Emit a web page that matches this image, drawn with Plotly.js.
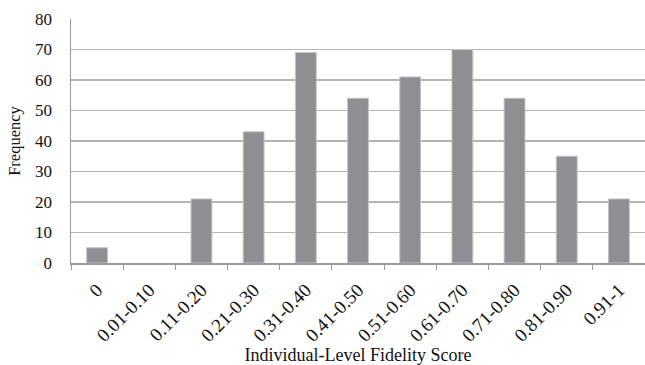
<!DOCTYPE html>
<html><head><meta charset="utf-8">
<script src="https://cdn.plot.ly/plotly-3.0.1.min.js"></script>
<style>html,body{margin:0;padding:0;background:#fff}</style>
</head><body>
<div id="chart" style="width:645px;height:365px"></div>
<script>
const categories = ["0","0.01-0.10","0.11-0.20","0.21-0.30","0.31-0.40","0.41-0.50","0.51-0.60","0.61-0.70","0.71-0.80","0.81-0.90","0.91-1"];
const frequency = [5, 0, 21, 43, 69, 54, 61, 70, 54, 35, 21];
const yTicks = [0,10,20,30,40,50,60,70,80];

const fam = "Liberation Serif, Times New Roman, serif";
Plotly.newPlot("chart", [{
  type: "bar", x: categories, y: frequency,
  marker: {color: "#8e8f93", line: {color: "#c4c4c6", width: frequency.map(v => v > 0 ? 1 : 0)}},
  hoverinfo: "skip"
}], {
  width: 645, height: 365,
  margin: {l: 71, r: 0, t: 19, b: 102},
  paper_bgcolor: "#fff", plot_bgcolor: "#fff",
  bargap: 0.6,
  showlegend: false,
  font: {family: fam, color: "#111", size: 17},
  xaxis: {
    type: "category", tickangle: -45, tickson: "boundaries",
    ticks: "outside", ticklen: 5, tickcolor: "#999", tickwidth: 1,
    showline: true, linecolor: "#999", linewidth: 1.5,
    showgrid: false, tickfont: {family: fam, size: 19, color: "#111"},
    ticklabelstandoff: 7,
    title: {text: "Individual-Level Fidelity Score", font: {family: fam, size: 18, color: "#111"}}
  },
  yaxis: {
    range: [0, 80], tickvals: yTicks, ticktext: yTicks.map(String),
    showline: true, linecolor: "#999", linewidth: 1.5,
    showgrid: true, gridcolor: "#b3b3b3", gridwidth: 1.2,
    zeroline: false, ticks: "", tickfont: {family: fam, size: 17, color: "#111"},
    ticklabelstandoff: 14,
    automargin: true,
    title: {text: "Frequency", font: {family: fam, size: 16.5, color: "#111"}, standoff: 10}
  }
}, {displayModeBar: false, staticPlot: true});
</script>
</body></html>
